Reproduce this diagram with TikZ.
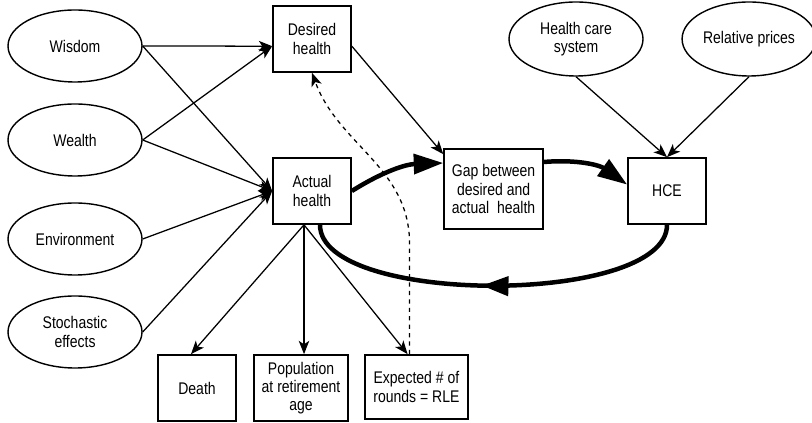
\documentclass[tikz,border=0pt]{standalone}
\usepackage{fontspec}
\setmainfont{Liberation Sans}[FakeStretch=0.83]
\usetikzlibrary{
  shapes.geometric,
  arrows.meta,
  positioning,
  decorations.markings
}
\tikzset{
    factor/.style={ellipse, draw, line width=1pt, minimum width=3.35cm, minimum height=1.8cm, align=center, inner sep=1pt},
    stage/.style={rectangle, draw, line width=1.2pt, minimum width=1.95cm, minimum height=1.65cm, align=center, inner sep=2pt},
    flow/.style={-{Stealth[length=9.5pt, width=7.5pt, inset=2.5pt]}, line width=0.9pt},
    feedback/.style={-{Triangle[length=21pt, width=14pt]}, line width=3.2pt},
    midarrow/.style={line width=3.2pt, decoration={markings, mark=at position 0.53 with {\arrow{Triangle[length=19pt, width=13.5pt]}}}, postaction={decorate}}
}

\begin{document}
\begin{tikzpicture}[font=\fontsize{12}{13}\selectfont]
                \useasboundingbox (0,0) rectangle (20.3,10.575);
                \node[factor] (wisdom) at (1.875,9.425) {Wisdom};
                \node[factor] (wealth) at (1.875,7.075) {Wealth};
                \node[factor] (environment) at (1.875,4.6) {Environment};
                \node[factor] (stochastic) at (1.875,2.275) {Stochastic\\effects};
                \node[stage] (desired) at (7.8,9.6) {Desired\\health};
                \node[stage] (actual) at (7.8,5.8) {Actual\\health};
                \node[stage, minimum width=2.475cm, minimum height=2cm] (gap) at (12.34,5.85) {Gap between\\desired and\\actual\ \ health};
                \node[stage] (hce) at (16.675,5.8) {HCE};
                \node[factor, minimum height=1.85cm] (hcs) at (14.4,9.6) {Health care\\system};
                \node[factor, minimum width=3.15cm, minimum height=1.85cm] (prices) at (18.725,9.6) {Relative prices};
                \node[stage] (death) at (4.925,0.875) {Death};
                \node[stage, minimum width=2.35cm] (population) at (7.525,0.875) {Population\\at retirement\\age};
                \node[stage, minimum width=2.575cm, minimum height=1.6cm] (expected) at (10.41,0.9) {Expected \# of\\rounds = RLE};

                \coordinate (dIn) at ([yshift=-0.18cm]desired.west);
                \coordinate (aOut) at ([xshift=-0.2cm]actual.south);

                \draw[flow] (wisdom.east) -- (dIn);
                \draw[flow] (wisdom.east) -- (actual.west);
                \draw[flow] (wealth.east) -- (dIn);
                \draw[flow] (wealth.east) -- (actual.west);
                \draw[flow] (environment.east) -- (actual.west);
                \draw[flow] (stochastic.east) -- (actual.west);
                \draw[flow] ([yshift=-0.18cm]desired.east) -- ([yshift=-0.15cm]gap.north west);
                \draw[flow] (hcs.south) -- (hce.north);
                \draw[flow] (prices.south) -- (hce.north);

                \draw[flow] (aOut) -- ([xshift=-0.15cm]death.north);
                \draw[flow] (aOut) -- (aOut |- population.north);
                \draw[flow] (aOut) -- ([xshift=-0.22cm]expected.north);
                \draw[flow, dashed] ([xshift=-0.17cm]expected.north) -- ++(0,2.75) to[out=90, in=-70] (desired.south);

                % the spending loop
                \draw[feedback] (actual.east) to[bend left=15] ([yshift=0.65cm]gap.west);
                \draw[feedback] ([yshift=0.675cm]gap.east) to[bend left=20] ([yshift=0.16cm]hce.west);
                \draw[midarrow] (hce.south) to[out=-90, in=-90, looseness=0.6] ([xshift=0.2cm]actual.south);
            \end{tikzpicture}
\end{document}
